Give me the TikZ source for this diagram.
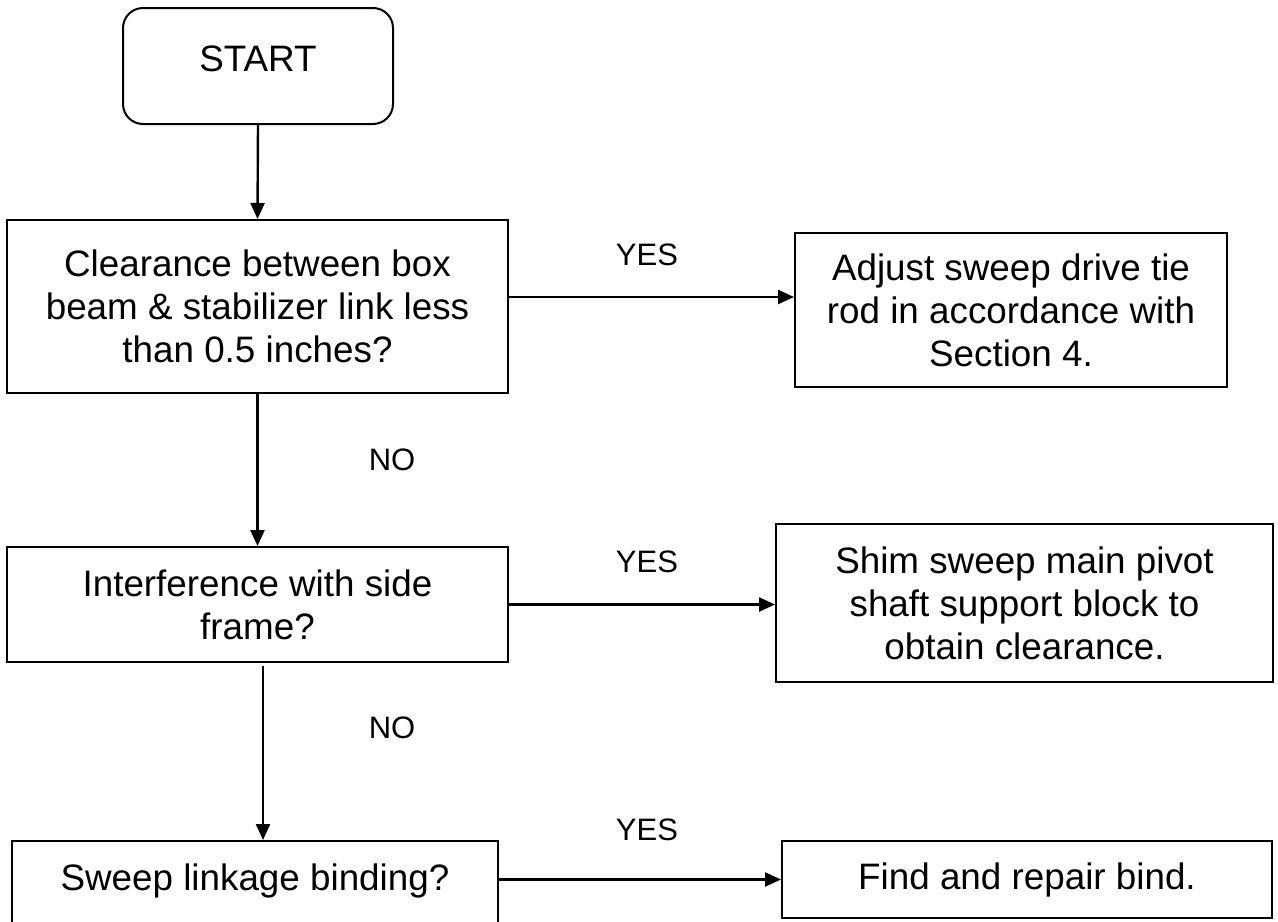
\documentclass[tikz,border=0pt]{standalone}
\usepackage{fontspec}
\setmainfont{Liberation Sans}
\usetikzlibrary{arrows.meta}

\tikzset{
    flowbox/.style={draw, line width=1pt, align=center, inner sep=0pt,
        font=\fontsize{18.4}{21.5}\selectfont},
    termbox/.style={flowbox, rounded corners=10pt},
    flowarrow/.style={-{Triangle[length=8pt,width=7pt]}, line width=1.2pt},
    answer/.style={font=\fontsize{15.5}{18}\selectfont}
}

\begin{document}
\begin{tikzpicture}[x=0.5pt, y=-0.5pt]
    \useasboundingbox (0,0) rectangle (1278,921);
    \clip (0,0) rectangle (1278,921);

    % boxes
    \node[termbox, minimum width=135pt, minimum height=58pt,
        text height=13.3pt, text depth=8.1pt] (start) at (258,66) {START};
    \node[flowbox, minimum width=250.5pt, minimum height=86.5pt] (clear) at (257.5,306.5)
        {Clearance between box\\beam \& stabilizer link less\\than 0.5 inches?};
    \node[flowbox, minimum width=216pt, minimum height=77pt] (adjust) at (1011,310)
        {Adjust sweep drive tie\\rod in accordance with\\Section 4.};
    \node[flowbox, minimum width=250.5pt, minimum height=57.5pt] (interf) at (257.5,604.5)
        {Interference with side\\frame?};
    \node[flowbox, minimum width=248.5pt, minimum height=79pt] (shim) at (1024.5,603)
        {Shim sweep main pivot\\shaft support block to\\obtain clearance.};
    \node[flowbox, minimum width=243pt, minimum height=64.5pt,
        text height=13.3pt, text depth=28.6pt] (bind) at (255,905.5)
        {Sweep linkage binding?};
    \node[flowbox, minimum width=245pt, minimum height=38.5pt] (repair) at (1027,879.5)
        {Find and repair bind.};

    % arrows
    \draw[flowarrow] (start.south) -- (clear.north);
    \draw[flowarrow] ([yshift=4.75pt]clear.east) -- ([yshift=4.75pt]clear.east -| adjust.west);
    \draw[flowarrow] (clear.south) -- (interf.north);
    \draw[flowarrow] (interf.east) -- (interf.east -| shim.west);
    \draw[flowarrow] ([xshift=2.75pt,yshift=-1.5pt]interf.south) -- ([xshift=2.75pt]interf.south |- bind.north);
    \draw[flowarrow] (bind.east |- repair.west) -- (repair.west);

    % labels
    \node[answer] (yes1) at (647,255) {YES};
    \node[answer] (yes2) at (647,562) {YES};
    \node[answer] (yes3) at (647,830) {YES};
    \node[answer] (no1) at (392,460) {NO};
    \node[answer] (no2) at (392,728) {NO};

\end{tikzpicture}
\end{document}
